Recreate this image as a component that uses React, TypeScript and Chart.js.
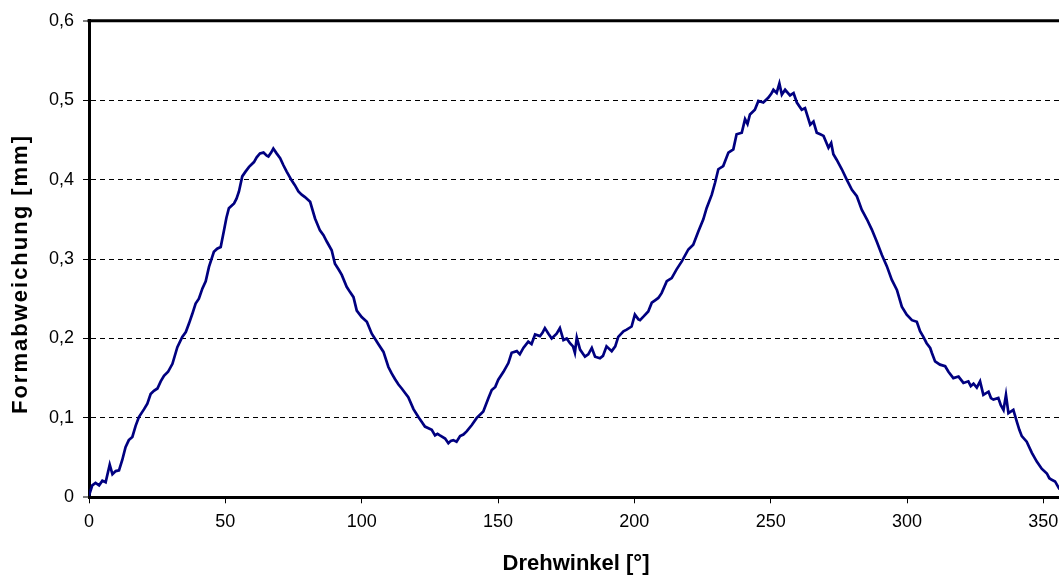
import React, { useEffect, useRef } from "react";
import { Chart, registerables } from "chart.js";

Chart.register(...registerables);

// Drehwinkel [°]
const angles: number[] = [
  0, 1.2, 2.4, 3.7, 4.9, 6.1, 7.6, 8.6, 9.8, 11, 12.2, 13.4, 14.6, 15.9, 17.1, 18.3, 20.2, 21.4, 22.6, 23.8,
  25.1, 26.3, 27.5, 29, 30.6, 32.4, 34.2, 35.5, 36.7, 37.9, 39.1, 40.3, 41.6, 42.8, 44, 45.8, 47, 48.3, 49.5, 50.4,
  51.3, 53.2, 54.1, 55, 56.2, 57.4, 58.7, 60.5, 61.5, 62.7, 64, 65.2, 65.8, 66.8, 67.6, 68.8, 70.1, 71.3, 72.5, 74.3,
  75.5, 76.8, 78, 79.2, 81.1, 82.9, 84.7, 86, 87.2, 89, 90.2, 91.5, 92.7, 94.5, 95.8, 97, 98.2, 100, 101.9, 103.7,
  105, 106.1, 108, 109.8, 111, 112.2, 113.5, 114.7, 116, 117.1, 119, 120.8, 122, 123.2, 124.5, 125.7, 126.9, 127.8, 128.7, 130.6,
  131.8, 132.7, 133.6, 134.8, 136.1, 137.3, 138.5, 140.4, 142.2, 143.4, 144.6, 146.5, 147.7, 149, 150.1, 152, 153.8, 155, 156.9, 158,
  159.3, 161.1, 162.3, 163.6, 165.4, 166.3, 167.2, 168.5, 169.7, 171.5, 172.7, 174, 175.2, 176.4, 177.5, 178.2, 178.9, 180.1, 181.9, 183.1,
  184.4, 185.6, 187.4, 188.5, 189.8, 191.7, 193, 194.1, 196, 197.2, 199, 200.2, 201.5, 202.1, 203.5, 205.1, 206.4, 207.6, 208.8, 210,
  211.9, 213.7, 215.5, 217.4, 219.8, 221.6, 223.5, 225.3, 226.5, 228.4, 229.6, 230.8, 232.6, 234.5, 236.3, 237.5, 239.4, 240.6, 241.5, 242.4,
  244.2, 245.5, 247.3, 249.1, 250.2, 251, 252.2, 253.2, 254.1, 255.3, 257.1, 258.4, 259.6, 261.4, 262.6, 264.5, 265.7, 266.9, 268.2, 269.4,
  271.2, 272.2, 273, 274.2, 276.1, 277.9, 279.8, 281.6, 283.4, 285.3, 287.1, 288.9, 290.8, 292.6, 294.4, 296.3, 298.1, 299.9, 301.8, 303.6,
  304.8, 306, 307.2, 308.5, 309.1, 310.3, 312.1, 314, 315.2, 317, 318.9, 320.7, 322.5, 323.4, 324.4, 325.6, 326.8, 328, 329.9, 330.8,
  331.7, 333.5, 334.4, 335.4, 336.3, 337.2, 339, 340.3, 341.2, 342.1, 343.9, 345.8, 347.6, 349.4, 351.3, 352.2, 353.1, 354.3, 355.8, 357,
  358.5, 360,
];

// Formabweichung [mm]
const deviation: number[] = [
  0.002, 0.015, 0.018, 0.015, 0.021, 0.019, 0.041, 0.029, 0.033, 0.034, 0.047, 0.063, 0.072, 0.076, 0.09, 0.101, 0.111, 0.118, 0.13, 0.134,
  0.137, 0.146, 0.153, 0.158, 0.168, 0.189, 0.202, 0.208, 0.219, 0.231, 0.244, 0.25, 0.263, 0.272, 0.29, 0.309, 0.313, 0.315, 0.336, 0.352,
  0.364, 0.37, 0.376, 0.385, 0.404, 0.41, 0.416, 0.422, 0.428, 0.433, 0.434, 0.43, 0.429, 0.434, 0.439, 0.433, 0.427, 0.418, 0.41, 0.399,
  0.393, 0.385, 0.381, 0.378, 0.372, 0.351, 0.336, 0.33, 0.322, 0.311, 0.294, 0.287, 0.28, 0.265, 0.258, 0.252, 0.235, 0.227, 0.221, 0.206,
  0.199, 0.193, 0.183, 0.164, 0.156, 0.149, 0.142, 0.137, 0.131, 0.126, 0.111, 0.101, 0.095, 0.089, 0.087, 0.085, 0.078, 0.08, 0.078, 0.074,
  0.068, 0.071, 0.072, 0.07, 0.077, 0.079, 0.083, 0.091, 0.1, 0.104, 0.108, 0.125, 0.135, 0.139, 0.148, 0.158, 0.169, 0.182, 0.184, 0.18,
  0.188, 0.196, 0.193, 0.205, 0.203, 0.207, 0.213, 0.206, 0.2, 0.206, 0.213, 0.198, 0.2, 0.194, 0.19, 0.182, 0.201, 0.186, 0.177, 0.18,
  0.188, 0.177, 0.175, 0.178, 0.19, 0.184, 0.19, 0.202, 0.209, 0.211, 0.215, 0.23, 0.224, 0.223, 0.228, 0.234, 0.245, 0.248, 0.251, 0.257,
  0.272, 0.276, 0.287, 0.297, 0.312, 0.318, 0.335, 0.35, 0.364, 0.381, 0.396, 0.413, 0.417, 0.434, 0.438, 0.457, 0.459, 0.476, 0.47, 0.482,
  0.488, 0.499, 0.497, 0.503, 0.508, 0.513, 0.509, 0.521, 0.507, 0.513, 0.506, 0.509, 0.497, 0.488, 0.49, 0.469, 0.473, 0.459, 0.457, 0.455,
  0.44, 0.446, 0.432, 0.425, 0.413, 0.4, 0.387, 0.379, 0.362, 0.35, 0.337, 0.322, 0.305, 0.291, 0.274, 0.261, 0.24, 0.23, 0.223, 0.221,
  0.209, 0.202, 0.194, 0.188, 0.182, 0.171, 0.167, 0.165, 0.158, 0.15, 0.152, 0.144, 0.146, 0.14, 0.143, 0.138, 0.146, 0.129, 0.133, 0.125,
  0.123, 0.125, 0.116, 0.11, 0.129, 0.106, 0.11, 0.095, 0.085, 0.077, 0.07, 0.056, 0.045, 0.036, 0.03, 0.024, 0.022, 0.02, 0.011, 0.008,
  0.005, 0.003,
];

const xTitle = "Drehwinkel [°]";
const yTitle = "Formabweichung [mm]";
const FONT = "'Liberation Sans', Arial, sans-serif";

const CANVAS_W = 1090;
const CANVAS_H = 578;

export default function App() {
  const ref = useRef<HTMLCanvasElement | null>(null);

  useEffect(() => {
    const canvas = ref.current;
    if (!canvas) return;

    const framePlugin = {
      id: "frameAndTitles",
      afterDraw(chart: any) {
        const { ctx, chartArea } = chart;
        ctx.save();
        // top border
        ctx.strokeStyle = "#000";
        ctx.lineWidth = 3;
        ctx.beginPath();
        ctx.moveTo(chartArea.left - 1.5, chartArea.top);
        ctx.lineTo(chartArea.right, chartArea.top);
        ctx.stroke();
        // titles
        ctx.fillStyle = "#000";
        ctx.font = `bold 22px ${FONT}`;
        ctx.textAlign = "center";
        ctx.textBaseline = "middle";
        ctx.fillText(xTitle, 576, 564);
        ctx.translate(21, 274);
        ctx.rotate(-Math.PI / 2);
        try {
          (ctx as any).letterSpacing = "2px";
        } catch (e) {}
        ctx.fillText(yTitle, 0, 0);
        ctx.restore();
      },
    };

    const fmt = (v: number) => {
      const r = Math.round(v * 10) / 10;
      return r === 0 ? "0" : r.toFixed(1).replace(".", ",");
    };

    const chart = new Chart(canvas, {
      type: "line",
      data: {
        datasets: [
          {
            data: angles.map((a, i) => ({ x: a, y: deviation[i] })),
            borderColor: "#000080",
            borderWidth: 2.7,
            pointRadius: 0,
            tension: 0,
            fill: false,
          },
        ],
      },
      options: {
        responsive: false,
        animation: false,
        devicePixelRatio: 1,
        layout: { padding: { left: 0, right: 19.4, top: 20.7, bottom: 0 } },
        plugins: {
          legend: { display: false },
          tooltip: { enabled: false },
        },
        scales: {
          x: {
            type: "linear",
            min: 0,
            max: 360,
            afterFit: (s: any) => {
              s.height = 80.7;
            },
            ticks: {
              stepSize: 50,
              includeBounds: false,
              maxRotation: 0,
              autoSkip: false,
              padding: 8,
              color: "#000",
              font: { family: FONT, size: 18 },
            },
            grid: {
              drawOnChartArea: false,
              drawTicks: true,
              tickLength: 6,
              tickColor: "#000",
              tickWidth: 1,
            },
            border: { display: true, color: "#000", width: 3 },
          },
          y: {
            type: "linear",
            min: 0,
            max: 0.6,
            afterFit: (s: any) => {
              s.width = 89;
            },
            ticks: {
              stepSize: 0.1,
              padding: 9,
              color: "#000",
              font: { family: FONT, size: 18 },
              callback: (v: any) => fmt(Number(v)),
            },
            grid: {
              drawTicks: true,
              tickLength: 6,
              tickColor: "#000",
              tickWidth: 1,
              color: "#000",
              lineWidth: (c: any) => {
                const v = c.tick ? Math.round(c.tick.value * 10) / 10 : 0;
                return v === 0 || v === 0.6 ? 0 : 1;
              },
            },
            border: { display: true, color: "#000", width: 3, dash: [5, 4] },
          },
        },
      },
      plugins: [framePlugin],
    } as any);

    return () => chart.destroy();
  }, []);

  return (
    <div
      style={{
        position: "fixed",
        left: 0,
        top: 0,
        width: 1059,
        height: 578,
        overflow: "hidden",
        background: "#fff",
      }}
    >
      <canvas
        ref={ref}
        width={CANVAS_W}
        height={CANVAS_H}
        style={{ display: "block", width: CANVAS_W, height: CANVAS_H }}
      />
    </div>
  );
}
